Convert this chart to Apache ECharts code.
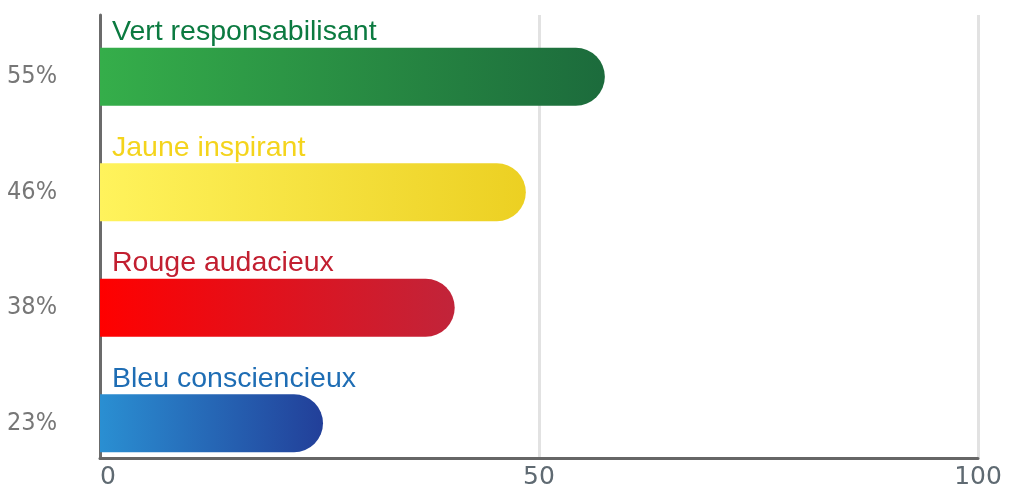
<!DOCTYPE html>
<html lang="fr">
<head>
    <meta charset="UTF-8">
    <title>profils couleur</title>
    <script src="https://cdn.jsdelivr.net/npm/echarts@6/dist/echarts.min.js"></script>
    <style>
        html, body { margin: 0; padding: 0; background: #fff; }
        #chart { width: 1009px; height: 488px; }
    </style>
</head>
<body>
    <div id="chart"></div>
    <script>
        // données
        var pctLabels = ['55%', '46%', '38%', '23%'];
        var names = ['Vert responsabilisant', 'Jaune inspirant', 'Rouge audacieux', 'Bleu consciencieux'];
        var values = [57.5, 48.5, 40.4, 25.4];
        var xTicks = [0, 50, 100];

        var nameColors = ['#0b7a40', '#f4d41c', '#c21f30', '#1e6db4'];
        var gradStops = [
            ['#35ae4a', '#1c6b3c'],
            ['#fff35c', '#ecd022'],
            ['#ff0000', '#c1243a'],
            ['#2a8fd2', '#223f99']
        ];

        var myChart = echarts.init(document.getElementById('chart'));

        var barData = values.map(function (v, i) {
            return {
                value: v,
                itemStyle: {
                    color: new echarts.graphic.LinearGradient(0, 0, 1, 0, [
                        { offset: 0, color: gradStops[i][0] },
                        { offset: 1, color: gradStops[i][1] }
                    ])
                },
                label: { color: nameColors[i] }
            };
        });

        var option = {
            backgroundColor: '#fff',
            animation: false,
            grid: [
                // axes et quadrillage
                { left: 100, right: 31, top: 15, bottom: 30, outerBoundsMode: 'none' },
                // barres
                { left: 100, right: 31, top: 19, height: 462, outerBoundsMode: 'none' }
            ],
            xAxis: [
                {
                    gridIndex: 0,
                    type: 'value',
                    min: 0,
                    max: 100,
                    interval: 50,
                    axisLine: { show: true, lineStyle: { color: '#666', width: 3 } },
                    axisTick: { show: false },
                    splitLine: { show: true, lineStyle: { color: '#e2e2e2', width: 3 } },
                    axisLabel: {
                        color: '#5f6a72',
                        fontFamily: 'DejaVu Sans',
                        fontSize: 25,
                        margin: 7,
                        alignMinLabel: 'left',
                        formatter: function (v) { return xTicks.indexOf(v) >= 0 ? String(v) : ''; }
                    }
                },
                {
                    gridIndex: 1,
                    type: 'value',
                    min: 0,
                    max: 100,
                    show: false
                }
            ],
            yAxis: [
                {
                    gridIndex: 0,
                    type: 'category',
                    data: [''],
                    axisLine: { show: true, lineStyle: { color: '#6b6b6b', width: 3 } },
                    axisTick: { show: false },
                    axisLabel: { show: false }
                },
                {
                    gridIndex: 1,
                    type: 'category',
                    inverse: true,
                    data: pctLabels,
                    axisLine: { show: false },
                    axisTick: { show: false },
                    axisLabel: {
                        color: '#777',
                        fontFamily: 'DejaVu Sans Condensed',
                        fontSize: 25,
                        margin: 43
                    }
                }
            ],
            series: [
                {
                    type: 'bar',
                    xAxisIndex: 1,
                    yAxisIndex: 1,
                    barWidth: 58,
                    itemStyle: { borderRadius: [0, 29, 29, 0] },
                    label: {
                        show: true,
                        position: [12, -1],
                        align: 'left',
                        verticalAlign: 'bottom',
                        fontFamily: 'Liberation Sans',
                        fontSize: 28.5,
                        formatter: function (p) { return names[p.dataIndex]; }
                    },
                    data: barData
                }
            ]
        };

        myChart.setOption(option);
    </script>
</body>
</html>
